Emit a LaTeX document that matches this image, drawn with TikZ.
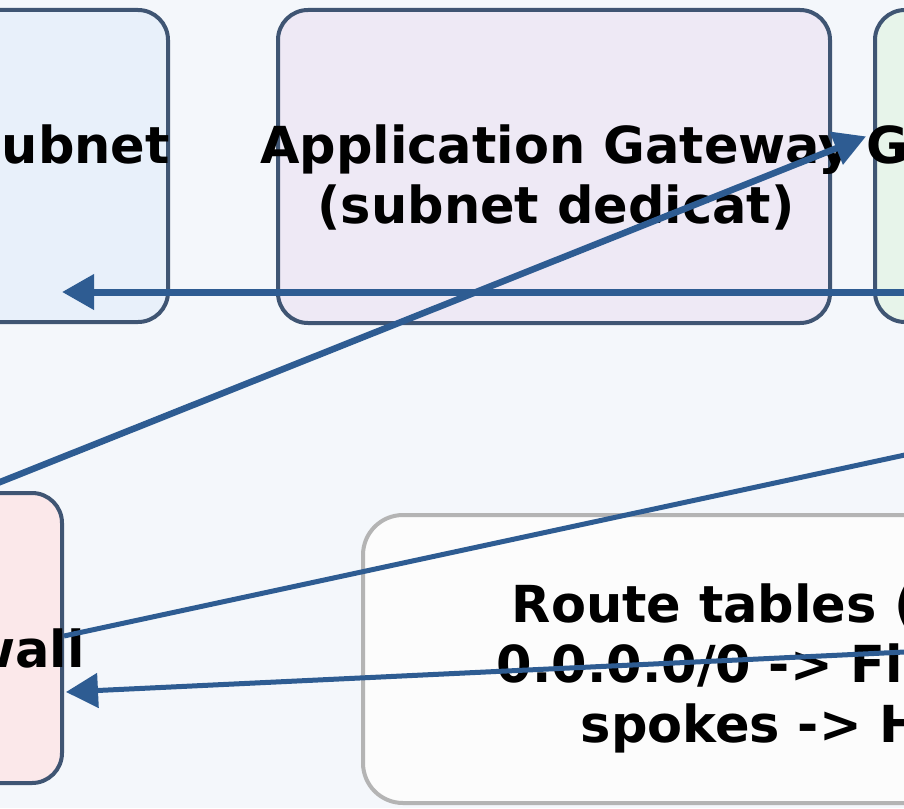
\documentclass[tikz,border=0pt]{standalone}
\usepackage{fontspec}
\setsansfont{DejaVu Sans}
\usetikzlibrary{arrows.meta}
\definecolor{canvas}{HTML}{F4F7FB}
\definecolor{edgeslate}{HTML}{3F5573}
\definecolor{flowblue}{HTML}{2E5C92}
\definecolor{subnetblue}{HTML}{E8F0FA}
\definecolor{gatewaylilac}{HTML}{EEE9F5}
\definecolor{gatewaygreen}{HTML}{E7F4EA}
\definecolor{firewallpink}{HTML}{FBE8EA}
\definecolor{routewhite}{HTML}{FCFCFC}
\definecolor{routegray}{HTML}{B4B4B4}

\begin{document}
\begin{tikzpicture}[x=1pt, y=-1pt,
  box/.style={draw=edgeslate, line width=4pt, rounded corners=30pt, fill=#1, inner sep=0pt},
  routebox/.style={draw=routegray, line width=4pt, rounded corners=40pt, fill=routewhite, inner sep=0pt},
  lbl/.style={inner sep=0pt, font=\sffamily\bfseries\fontsize{51}{60}\selectfont, align=center},
  flow/.style={-{Triangle[length=32pt,width=34pt]}, line width=#1, draw=flowblue},
  flow/.default=5pt,
]
  \useasboundingbox (0,0) rectangle (904,808);
  \clip (0,0) rectangle (904,808);
  \fill[canvas] (0,0) rectangle (904,808);

  \node[box=subnetblue, minimum width=568pt, minimum height=312pt] (fwsubnet) at (-116,166) {};
  \node[box=gatewaylilac, minimum width=552pt, minimum height=313pt] (appgw) at (554,166.5) {};
  \node[box=gatewaygreen, minimum width=552pt, minimum height=312pt] (gwsubnet) at (1151,166) {};
  \node[box=firewallpink, minimum width=552pt, minimum height=290pt] (firewall) at (-214,638) {};
  \node[routebox, minimum width=854pt, minimum height=288pt] (routes) at (790,659) {};

  \node[lbl, anchor=base east] (fwsubnettxt) at (170,163) {AzureFirewallSubnet};
  \node[lbl, anchor=north] (appgwtxt) at (556,124.2) {Application Gateway\\(subnet dedicat)};
  \node[lbl, anchor=base west] (gwsubnettxt) at (866,163) {GatewaySubnet};
  \node[lbl, anchor=base east] (firewalltxt) at (85,667) {Azure Firewall};
  \node[lbl, anchor=north] (routestxt) at (788,583.2) {Route tables (UDR)\\0.0.0.0/0 -> Firewall\\spokes -> Hub};

  \coordinate (gw-out) at (1000,292);
  \coordinate (fwsub-in) at (62,292);
  \coordinate (fw-up) at (-100,522);
  \coordinate (gw-in) at (866,136.4);
  \coordinate (fw-out) at (64,636);
  \coordinate (hub-in) at (1100,413);
  \coordinate (hub-back) at (1100,642.7);
  \coordinate (fw-in) at (66,692);

  \draw[flow=7pt] (gw-out) -- (fwsub-in);
  \draw[flow=6.5pt] (fw-up) -- (gw-in);
  \draw[flow] (fw-out) -- (hub-in);
  \draw[flow] (hub-back) -- (fw-in);
\end{tikzpicture}
\end{document}
